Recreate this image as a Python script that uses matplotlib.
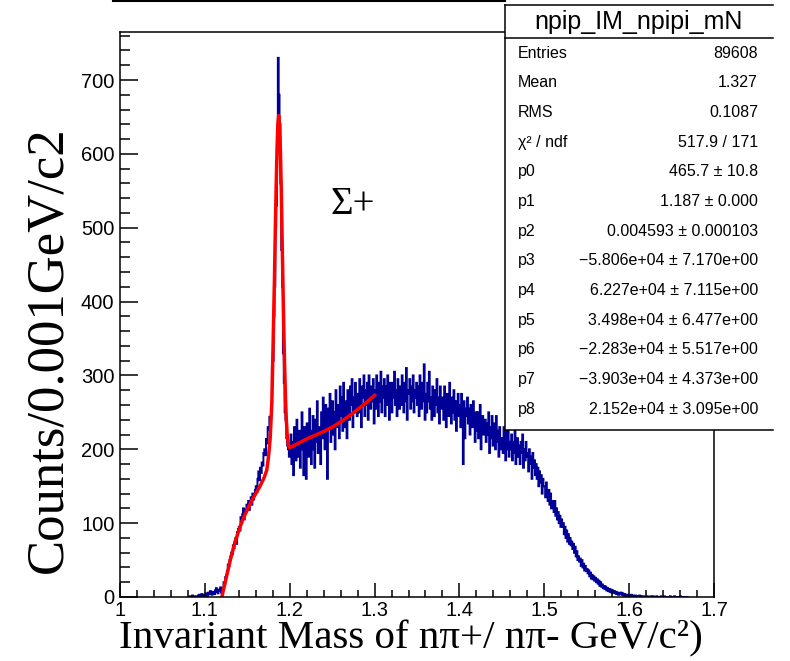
import numpy as np
import matplotlib
matplotlib.use("Agg")
import matplotlib.pyplot as plt
from matplotlib.lines import Line2D

# histogram: bins of 0.001 GeV starting at 1.080
x_start = 1.080
bin_w = 0.001
counts = [
    0, 0, 1, 0, 0, 2, 0, 1, 0, 0,             # 1.08
    1, 0, 2, 3, 1, 0, 4, 2, 1, 3,             # 1.09
    2, 5, 3, 1, 6, 4, 8, 5, 3, 7,             # 1.10
    6, 4, 9, 12, 7, 5, 10, 8, 13, 6,          # 1.11
    8, 12, 20, 18, 27, 30, 35, 44, 42, 50,    # 1.12
    55, 60, 58, 70, 66, 75, 80, 72, 88, 92,   # 1.13
    95, 90, 108, 100, 112, 120, 105, 118, 115, 125,
    122, 130, 118, 128, 135, 125, 140, 132, 138, 145,
    150, 142, 160, 170, 158, 175, 168, 182, 178, 195,
    200, 192, 214, 208, 230, 226, 244, 238, 255, 310,
    320, 380, 420, 500, 530, 610, 730, 680, 640, 560,  # 1.18
    470, 420, 330, 290, 250, 240, 215, 205, 200, 190,
    195, 220, 180, 210, 165, 230, 200, 185, 240, 205,  # 1.20
    190, 225, 175, 215, 250, 200, 165, 230, 210, 160,
    235, 205, 190, 255, 215, 180, 225, 245, 200, 175,
    240, 210, 265, 195, 230, 220, 180, 250, 215, 270,
    225, 200, 260, 240, 160, 255, 230, 275, 210, 245,
    265, 220, 250, 200, 280, 240, 230, 260, 215, 285,
    245, 270, 225, 290, 250, 230, 265, 215, 280, 255,
    240, 285, 260, 295, 230, 270, 250, 290, 265, 245,
    275, 250, 295, 265, 230, 285, 270, 300, 245, 280,
    260, 290, 240, 300, 275, 255, 285, 265, 295, 235,
    280, 255, 300, 270, 245, 290, 265, 305, 250, 285,  # 1.30
    270, 295, 245, 285, 260, 300, 275, 240, 290, 265,
    250, 290, 270, 305, 260, 280, 245, 295, 275, 255,
    285, 260, 300, 270, 250, 290, 265, 310, 240, 280,
    275, 295, 255, 285, 265, 300, 250, 280, 270, 290,
    260, 285, 245, 300, 270, 255, 290, 265, 315, 240,
    275, 250, 290, 265, 305, 255, 270, 240, 285, 260,
    245, 280, 260, 295, 250, 270, 235, 285, 255, 265,
    270, 240, 285, 255, 230, 275, 260, 245, 290, 250,
    235, 270, 250, 280, 240, 265, 225, 255, 275, 245,
    260, 230, 275, 250, 180, 265, 215, 255, 245, 270,  # 1.40
    235, 255, 220, 260, 245, 230, 265, 240, 210, 250,
    225, 250, 215, 240, 260, 200, 235, 245, 220, 230,
    240, 210, 235, 220, 250, 195, 230, 215, 245, 205,
    220, 235, 200, 245, 210, 225, 190, 230, 215, 200,
    215, 195, 230, 205, 185, 225, 200, 240, 190, 210,
    200, 220, 185, 210, 195, 230, 180, 205, 215, 190,
    205, 180, 210, 195, 220, 175, 200, 185, 210, 190,
    195, 170, 200, 180, 190, 160, 195, 175, 185, 165,
    180, 160, 175, 150, 170, 155, 165, 140, 160, 150,
    150, 135, 155, 140, 130, 145, 125, 140, 120, 130,  # 1.50
    125, 115, 130, 110, 120, 105, 115, 100, 110, 95,
    105, 95, 100, 85, 95, 80, 90, 75, 85, 72,
    80, 70, 75, 65, 72, 60, 68, 55, 62, 50,
    55, 48, 52, 42, 50, 40, 45, 36, 42, 35,
    38, 32, 36, 28, 33, 25, 30, 24, 28, 22,
    26, 20, 24, 18, 22, 15, 20, 14, 17, 12,
    15, 11, 14, 9, 12, 8, 11, 7, 10, 6,
    9, 6, 8, 5, 7, 4, 6, 3, 5, 4,
    6, 3, 5, 2, 4, 2, 3, 1, 3, 2,
    2, 1, 3, 0, 2, 1, 0, 2, 1, 0,             # 1.60
    1, 0, 2, 0, 1, 0, 0, 1, 0, 0,
    0, 1, 0, 0, 0, 1, 0, 0, 1, 0,
    0, 0, 1, 0, 0, 0, 0, 1, 0, 0,
    0, 1, 0, 0, 0, 0, 0, 0, 1, 0,
    0, 0, 0, 1, 0, 0, 0, 0, 0, 0,
    1, 0, 0, 0, 0, 0, 0, 0, 0, 0,
]

# fit curve
fit_x = [1.1200, 1.1250, 1.1300, 1.1350, 1.1400, 1.1450, 1.1500, 1.1550, 1.1600,
         1.1650, 1.1700, 1.1730, 1.1750, 1.1770, 1.1790, 1.1800, 1.1810, 1.1820,
         1.1830, 1.1840, 1.1850, 1.1860, 1.1870, 1.1880, 1.1890, 1.1900, 1.1910,
         1.1920, 1.1930, 1.1940, 1.1950, 1.1960, 1.1970, 1.1985, 1.2000, 1.2100,
         1.2200, 1.2300, 1.2400, 1.2500, 1.2600, 1.2700, 1.2800, 1.2900, 1.3000]
fit_y = [0, 25, 50, 72, 90, 106, 118, 130, 140,
         150, 162, 172, 190, 215, 265, 320, 375, 430,
         495, 555, 605, 640, 652, 640, 605, 555, 490,
         425, 365, 312, 270, 240, 220, 206, 202, 208,
         214, 219, 224, 230, 237, 245, 254, 263, 273]

stat_labels = ["Entries", "Mean", "RMS", "χ² / ndf", "p0", "p1", "p2", "p3",
               "p4", "p5", "p6", "p7", "p8"]
stat_values = ["89608", "1.327", "0.1087", "517.9 / 171", "465.7 ± 10.8",
               "1.187 ± 0.000", "0.004593 ± 0.000103",
               "−5.806e+04 ± 7.170e+00", "6.227e+04 ± 7.115e+00",
               "3.498e+04 ± 6.477e+00", "−2.283e+04 ± 5.517e+00",
               "−3.903e+04 ± 4.373e+00", "2.152e+04 ± 3.095e+00"]
hist_name = "npip_IM_npipi_mN"

W, H = 790, 661
fig = plt.figure(figsize=(W / 100, H / 100), dpi=100)

def fx(px):
    return px / W

def fy(py):
    return 1 - py / H

ax = fig.add_axes([fx(120), fy(597), fx(714) - fx(120), fy(32) - fy(597)])

edges = x_start + bin_w * np.arange(len(counts) + 1)
ax.stairs(counts, edges, color="#000099", lw=1.4)
ax.plot(fit_x, fit_y, color="red", lw=2.5, solid_joinstyle="round")

ax.set_xlim(1.0, 1.7)
ax.set_ylim(0, 765)
ax.set_xticks(np.arange(1.0, 1.71, 0.1))
ax.set_xticklabels(["1", "1.1", "1.2", "1.3", "1.4", "1.5", "1.6", "1.7"])
ax.set_xticks(np.arange(1.0, 1.7, 0.02), minor=True)
ax.set_yticks(np.arange(0, 701, 100))
ax.set_yticks(np.arange(0, 761, 20), minor=True)

ax.tick_params(axis="both", which="both", direction="in", top=False, right=False,
               width=1.1, labelsize=14.5)
ax.tick_params(axis="y", which="major", length=13, pad=4)
ax.tick_params(axis="y", which="minor", length=7)
ax.tick_params(axis="x", which="major", length=10, pad=3)
ax.tick_params(axis="x", which="minor", length=5)
for lab in ax.get_xticklabels() + ax.get_yticklabels():
    lab.set_fontfamily("Liberation Sans")
for sp in ax.spines.values():
    sp.set_linewidth(1.1)

ax.text(1.2475, 531, "Σ+", fontsize=28, family="Liberation Serif",
        va="center", ha="left")

fig.text(fx(411), fy(639), "Invariant Mass of nπ+/ nπ- GeV/c²)", fontsize=29.5,
         family="Liberation Serif", ha="center", va="center")
fig.text(fx(48), fy(350), "Counts/0.001GeV/c2", fontsize=38, rotation=90,
         family="Liberation Serif", ha="center", va="center")

# stats box
bx0, bx1, by0, by1, byt = 505, 773, 5, 430, 38
fig.patches.append(plt.Rectangle((fx(bx0), fy(by1)), fx(bx1) - fx(bx0),
                                 fy(by0) - fy(by1), transform=fig.transFigure,
                                 facecolor="white", edgecolor="none", zorder=5))
for (xa, ya, xb, yb) in [(bx0, by0, bx1, by0), (bx0, byt, bx1, byt),
                         (bx0, by1, bx1, by1), (bx0, by0, bx0, by1)]:
    fig.add_artist(Line2D([fx(xa), fx(xb)], [fy(ya), fy(yb)], color="black",
                          lw=1.1, zorder=6, transform=fig.transFigure))
fig.text(fx(639), fy(22), hist_name, fontsize=18, family="Liberation Sans",
         ha="center", va="center", zorder=7)
for i, (lab, val) in enumerate(zip(stat_labels, stat_values)):
    yy = 53 + i * 29.7
    fig.text(fx(518), fy(yy), lab, fontsize=11.5, family="Liberation Sans",
             ha="left", va="center", zorder=7)
    fig.text(fx(758), fy(yy), val, fontsize=11.5, family="Liberation Sans",
             ha="right", va="center", zorder=7)

# remains of the pad above
fig.add_artist(Line2D([fx(113), fx(505)], [fy(0.5), fy(0.5)], color="black",
                      lw=1.5, transform=fig.transFigure))

fig.savefig("out.png", dpi=100)
